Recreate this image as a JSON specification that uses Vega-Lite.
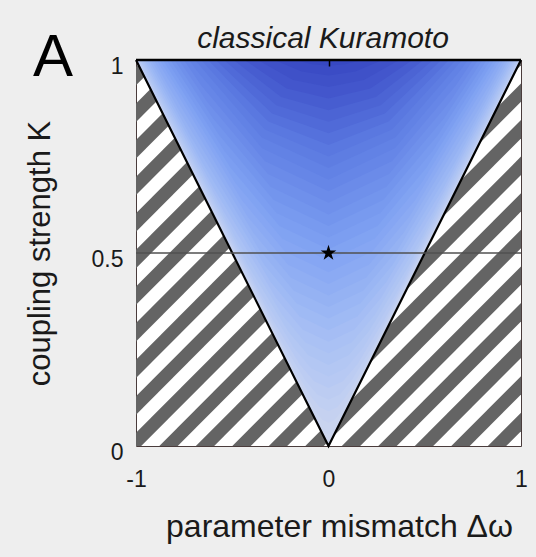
{
  "$schema": "https://vega.github.io/schema/vega-lite/v6.json",
  "width": 385,
  "height": 386,
  "autosize": {"type": "none"},
  "padding": {"left": 136, "top": 60, "right": 15, "bottom": 111},
  "background": "#eeeeee",
  "config": {"view": {"fill": "white", "stroke": "#4a3c3c", "strokeWidth": 1}, "font": "Liberation Sans"},
  "datasets": {
    "stripes": [
      {"xa": -1.1, "ya": -1.0825, "xb": 1.1, "yb": 0.0175},
      {"xa": -1.1, "ya": -0.9877, "xb": 1.1, "yb": 0.1123},
      {"xa": -1.1, "ya": -0.8929, "xb": 1.1, "yb": 0.2071},
      {"xa": -1.1, "ya": -0.7981, "xb": 1.1, "yb": 0.3019},
      {"xa": -1.1, "ya": -0.7033, "xb": 1.1, "yb": 0.3967},
      {"xa": -1.1, "ya": -0.6085, "xb": 1.1, "yb": 0.4915},
      {"xa": -1.1, "ya": -0.5137, "xb": 1.1, "yb": 0.5863},
      {"xa": -1.1, "ya": -0.4189, "xb": 1.1, "yb": 0.6811},
      {"xa": -1.1, "ya": -0.3241, "xb": 1.1, "yb": 0.7759},
      {"xa": -1.1, "ya": -0.2293, "xb": 1.1, "yb": 0.8707},
      {"xa": -1.1, "ya": -0.1345, "xb": 1.1, "yb": 0.9655},
      {"xa": -1.1, "ya": -0.0397, "xb": 1.1, "yb": 1.0603},
      {"xa": -1.1, "ya": 0.0551, "xb": 1.1, "yb": 1.1551},
      {"xa": -1.1, "ya": 0.1499, "xb": 1.1, "yb": 1.2499},
      {"xa": -1.1, "ya": 0.2447, "xb": 1.1, "yb": 1.3447},
      {"xa": -1.1, "ya": 0.3395, "xb": 1.1, "yb": 1.4395},
      {"xa": -1.1, "ya": 0.4343, "xb": 1.1, "yb": 1.5343},
      {"xa": -1.1, "ya": 0.5291, "xb": 1.1, "yb": 1.6291},
      {"xa": -1.1, "ya": 0.6239, "xb": 1.1, "yb": 1.7239},
      {"xa": -1.1, "ya": 0.7187, "xb": 1.1, "yb": 1.8187},
      {"xa": -1.1, "ya": 0.8135, "xb": 1.1, "yb": 1.9135},
      {"xa": -1.1, "ya": 0.9083, "xb": 1.1, "yb": 2.0083},
      {"xa": -1.1, "ya": 1.0031, "xb": 1.1, "yb": 2.1031}
    ],
    "levels": [
      {"v": 0, "x": -1, "y": 1, "y2": 1}, {"v": 0, "x": 0, "y": 1, "y2": 0}, {"v": 0, "x": 1, "y": 1, "y2": 1},
      {"v": 0.03, "x": -0.9995, "y": 1, "y2": 1}, {"v": 0.03, "x": -0.06, "y": 1, "y2": 0.0671}, {"v": 0.03, "x": -0.03, "y": 1, "y2": 0.0424}, {"v": 0.03, "x": -0.015, "y": 1, "y2": 0.0335}, {"v": 0.03, "x": 0, "y": 1, "y2": 0.03}, {"v": 0.03, "x": 0.015, "y": 1, "y2": 0.0335}, {"v": 0.03, "x": 0.03, "y": 1, "y2": 0.0424}, {"v": 0.03, "x": 0.06, "y": 1, "y2": 0.0671}, {"v": 0.03, "x": 0.9995, "y": 1, "y2": 1},
      {"v": 0.06, "x": -0.9982, "y": 1, "y2": 1}, {"v": 0.06, "x": -0.12, "y": 1, "y2": 0.1342}, {"v": 0.06, "x": -0.06, "y": 1, "y2": 0.0849}, {"v": 0.06, "x": -0.03, "y": 1, "y2": 0.0671}, {"v": 0.06, "x": 0, "y": 1, "y2": 0.06}, {"v": 0.06, "x": 0.03, "y": 1, "y2": 0.0671}, {"v": 0.06, "x": 0.06, "y": 1, "y2": 0.0849}, {"v": 0.06, "x": 0.12, "y": 1, "y2": 0.1342}, {"v": 0.06, "x": 0.9982, "y": 1, "y2": 1},
      {"v": 0.09, "x": -0.9959, "y": 1, "y2": 1}, {"v": 0.09, "x": -0.18, "y": 1, "y2": 0.2012}, {"v": 0.09, "x": -0.09, "y": 1, "y2": 0.1273}, {"v": 0.09, "x": -0.045, "y": 1, "y2": 0.1006}, {"v": 0.09, "x": 0, "y": 1, "y2": 0.09}, {"v": 0.09, "x": 0.045, "y": 1, "y2": 0.1006}, {"v": 0.09, "x": 0.09, "y": 1, "y2": 0.1273}, {"v": 0.09, "x": 0.18, "y": 1, "y2": 0.2012}, {"v": 0.09, "x": 0.9959, "y": 1, "y2": 1},
      {"v": 0.12, "x": -0.9928, "y": 1, "y2": 1}, {"v": 0.12, "x": -0.24, "y": 1, "y2": 0.2683}, {"v": 0.12, "x": -0.12, "y": 1, "y2": 0.1697}, {"v": 0.12, "x": -0.06, "y": 1, "y2": 0.1342}, {"v": 0.12, "x": 0, "y": 1, "y2": 0.12}, {"v": 0.12, "x": 0.06, "y": 1, "y2": 0.1342}, {"v": 0.12, "x": 0.12, "y": 1, "y2": 0.1697}, {"v": 0.12, "x": 0.24, "y": 1, "y2": 0.2683}, {"v": 0.12, "x": 0.9928, "y": 1, "y2": 1},
      {"v": 0.15, "x": -0.9887, "y": 1, "y2": 1}, {"v": 0.15, "x": -0.3, "y": 1, "y2": 0.3354}, {"v": 0.15, "x": -0.15, "y": 1, "y2": 0.2121}, {"v": 0.15, "x": -0.075, "y": 1, "y2": 0.1677}, {"v": 0.15, "x": 0, "y": 1, "y2": 0.15}, {"v": 0.15, "x": 0.075, "y": 1, "y2": 0.1677}, {"v": 0.15, "x": 0.15, "y": 1, "y2": 0.2121}, {"v": 0.15, "x": 0.3, "y": 1, "y2": 0.3354}, {"v": 0.15, "x": 0.9887, "y": 1, "y2": 1},
      {"v": 0.18, "x": -0.9837, "y": 1, "y2": 1}, {"v": 0.18, "x": -0.36, "y": 1, "y2": 0.4025}, {"v": 0.18, "x": -0.18, "y": 1, "y2": 0.2546}, {"v": 0.18, "x": -0.09, "y": 1, "y2": 0.2012}, {"v": 0.18, "x": 0, "y": 1, "y2": 0.18}, {"v": 0.18, "x": 0.09, "y": 1, "y2": 0.2012}, {"v": 0.18, "x": 0.18, "y": 1, "y2": 0.2546}, {"v": 0.18, "x": 0.36, "y": 1, "y2": 0.4025}, {"v": 0.18, "x": 0.9837, "y": 1, "y2": 1},
      {"v": 0.21, "x": -0.9777, "y": 1, "y2": 1}, {"v": 0.21, "x": -0.42, "y": 1, "y2": 0.4696}, {"v": 0.21, "x": -0.21, "y": 1, "y2": 0.297}, {"v": 0.21, "x": -0.105, "y": 1, "y2": 0.2348}, {"v": 0.21, "x": 0, "y": 1, "y2": 0.21}, {"v": 0.21, "x": 0.105, "y": 1, "y2": 0.2348}, {"v": 0.21, "x": 0.21, "y": 1, "y2": 0.297}, {"v": 0.21, "x": 0.42, "y": 1, "y2": 0.4696}, {"v": 0.21, "x": 0.9777, "y": 1, "y2": 1},
      {"v": 0.24, "x": -0.9708, "y": 1, "y2": 1}, {"v": 0.24, "x": -0.48, "y": 1, "y2": 0.5367}, {"v": 0.24, "x": -0.24, "y": 1, "y2": 0.3394}, {"v": 0.24, "x": -0.12, "y": 1, "y2": 0.2683}, {"v": 0.24, "x": 0, "y": 1, "y2": 0.24}, {"v": 0.24, "x": 0.12, "y": 1, "y2": 0.2683}, {"v": 0.24, "x": 0.24, "y": 1, "y2": 0.3394}, {"v": 0.24, "x": 0.48, "y": 1, "y2": 0.5367}, {"v": 0.24, "x": 0.9708, "y": 1, "y2": 1},
      {"v": 0.27, "x": -0.9629, "y": 1, "y2": 1}, {"v": 0.27, "x": -0.54, "y": 1, "y2": 0.6037}, {"v": 0.27, "x": -0.27, "y": 1, "y2": 0.3818}, {"v": 0.27, "x": -0.135, "y": 1, "y2": 0.3019}, {"v": 0.27, "x": 0, "y": 1, "y2": 0.27}, {"v": 0.27, "x": 0.135, "y": 1, "y2": 0.3019}, {"v": 0.27, "x": 0.27, "y": 1, "y2": 0.3818}, {"v": 0.27, "x": 0.54, "y": 1, "y2": 0.6037}, {"v": 0.27, "x": 0.9629, "y": 1, "y2": 1},
      {"v": 0.3, "x": -0.9539, "y": 1, "y2": 1}, {"v": 0.3, "x": -0.6, "y": 1, "y2": 0.6708}, {"v": 0.3, "x": -0.3, "y": 1, "y2": 0.4243}, {"v": 0.3, "x": -0.15, "y": 1, "y2": 0.3354}, {"v": 0.3, "x": 0, "y": 1, "y2": 0.3}, {"v": 0.3, "x": 0.15, "y": 1, "y2": 0.3354}, {"v": 0.3, "x": 0.3, "y": 1, "y2": 0.4243}, {"v": 0.3, "x": 0.6, "y": 1, "y2": 0.6708}, {"v": 0.3, "x": 0.9539, "y": 1, "y2": 1},
      {"v": 0.33, "x": -0.944, "y": 1, "y2": 1}, {"v": 0.33, "x": -0.66, "y": 1, "y2": 0.7379}, {"v": 0.33, "x": -0.33, "y": 1, "y2": 0.4667}, {"v": 0.33, "x": -0.165, "y": 1, "y2": 0.3689}, {"v": 0.33, "x": 0, "y": 1, "y2": 0.33}, {"v": 0.33, "x": 0.165, "y": 1, "y2": 0.3689}, {"v": 0.33, "x": 0.33, "y": 1, "y2": 0.4667}, {"v": 0.33, "x": 0.66, "y": 1, "y2": 0.7379}, {"v": 0.33, "x": 0.944, "y": 1, "y2": 1},
      {"v": 0.36, "x": -0.933, "y": 1, "y2": 1}, {"v": 0.36, "x": -0.72, "y": 1, "y2": 0.805}, {"v": 0.36, "x": -0.36, "y": 1, "y2": 0.5091}, {"v": 0.36, "x": -0.18, "y": 1, "y2": 0.4025}, {"v": 0.36, "x": 0, "y": 1, "y2": 0.36}, {"v": 0.36, "x": 0.18, "y": 1, "y2": 0.4025}, {"v": 0.36, "x": 0.36, "y": 1, "y2": 0.5091}, {"v": 0.36, "x": 0.72, "y": 1, "y2": 0.805}, {"v": 0.36, "x": 0.933, "y": 1, "y2": 1},
      {"v": 0.39, "x": -0.9208, "y": 1, "y2": 1}, {"v": 0.39, "x": -0.78, "y": 1, "y2": 0.8721}, {"v": 0.39, "x": -0.39, "y": 1, "y2": 0.5515}, {"v": 0.39, "x": -0.195, "y": 1, "y2": 0.436}, {"v": 0.39, "x": 0, "y": 1, "y2": 0.39}, {"v": 0.39, "x": 0.195, "y": 1, "y2": 0.436}, {"v": 0.39, "x": 0.39, "y": 1, "y2": 0.5515}, {"v": 0.39, "x": 0.78, "y": 1, "y2": 0.8721}, {"v": 0.39, "x": 0.9208, "y": 1, "y2": 1},
      {"v": 0.42, "x": -0.9075, "y": 1, "y2": 1}, {"v": 0.42, "x": -0.84, "y": 1, "y2": 0.9391}, {"v": 0.42, "x": -0.42, "y": 1, "y2": 0.594}, {"v": 0.42, "x": -0.21, "y": 1, "y2": 0.4696}, {"v": 0.42, "x": 0, "y": 1, "y2": 0.42}, {"v": 0.42, "x": 0.21, "y": 1, "y2": 0.4696}, {"v": 0.42, "x": 0.42, "y": 1, "y2": 0.594}, {"v": 0.42, "x": 0.84, "y": 1, "y2": 0.9391}, {"v": 0.42, "x": 0.9075, "y": 1, "y2": 1},
      {"v": 0.45, "x": -0.893, "y": 1, "y2": 1}, {"v": 0.45, "x": -0.45, "y": 1, "y2": 0.6364}, {"v": 0.45, "x": -0.225, "y": 1, "y2": 0.5031}, {"v": 0.45, "x": 0, "y": 1, "y2": 0.45}, {"v": 0.45, "x": 0.225, "y": 1, "y2": 0.5031}, {"v": 0.45, "x": 0.45, "y": 1, "y2": 0.6364}, {"v": 0.45, "x": 0.893, "y": 1, "y2": 1},
      {"v": 0.48, "x": -0.8773, "y": 1, "y2": 1}, {"v": 0.48, "x": -0.48, "y": 1, "y2": 0.6788}, {"v": 0.48, "x": -0.24, "y": 1, "y2": 0.5367}, {"v": 0.48, "x": 0, "y": 1, "y2": 0.48}, {"v": 0.48, "x": 0.24, "y": 1, "y2": 0.5367}, {"v": 0.48, "x": 0.48, "y": 1, "y2": 0.6788}, {"v": 0.48, "x": 0.8773, "y": 1, "y2": 1},
      {"v": 0.51, "x": -0.8602, "y": 1, "y2": 1}, {"v": 0.51, "x": -0.51, "y": 1, "y2": 0.7212}, {"v": 0.51, "x": -0.255, "y": 1, "y2": 0.5702}, {"v": 0.51, "x": 0, "y": 1, "y2": 0.51}, {"v": 0.51, "x": 0.255, "y": 1, "y2": 0.5702}, {"v": 0.51, "x": 0.51, "y": 1, "y2": 0.7212}, {"v": 0.51, "x": 0.8602, "y": 1, "y2": 1},
      {"v": 0.54, "x": -0.8417, "y": 1, "y2": 1}, {"v": 0.54, "x": -0.54, "y": 1, "y2": 0.7637}, {"v": 0.54, "x": -0.27, "y": 1, "y2": 0.6037}, {"v": 0.54, "x": 0, "y": 1, "y2": 0.54}, {"v": 0.54, "x": 0.27, "y": 1, "y2": 0.6037}, {"v": 0.54, "x": 0.54, "y": 1, "y2": 0.7637}, {"v": 0.54, "x": 0.8417, "y": 1, "y2": 1},
      {"v": 0.57, "x": -0.8216, "y": 1, "y2": 1}, {"v": 0.57, "x": -0.57, "y": 1, "y2": 0.8061}, {"v": 0.57, "x": -0.285, "y": 1, "y2": 0.6373}, {"v": 0.57, "x": 0, "y": 1, "y2": 0.57}, {"v": 0.57, "x": 0.285, "y": 1, "y2": 0.6373}, {"v": 0.57, "x": 0.57, "y": 1, "y2": 0.8061}, {"v": 0.57, "x": 0.8216, "y": 1, "y2": 1},
      {"v": 0.6, "x": -0.8, "y": 1, "y2": 1}, {"v": 0.6, "x": -0.6, "y": 1, "y2": 0.8485}, {"v": 0.6, "x": -0.3, "y": 1, "y2": 0.6708}, {"v": 0.6, "x": 0, "y": 1, "y2": 0.6}, {"v": 0.6, "x": 0.3, "y": 1, "y2": 0.6708}, {"v": 0.6, "x": 0.6, "y": 1, "y2": 0.8485}, {"v": 0.6, "x": 0.8, "y": 1, "y2": 1},
      {"v": 0.63, "x": -0.7766, "y": 1, "y2": 1}, {"v": 0.63, "x": -0.63, "y": 1, "y2": 0.891}, {"v": 0.63, "x": -0.315, "y": 1, "y2": 0.7044}, {"v": 0.63, "x": 0, "y": 1, "y2": 0.63}, {"v": 0.63, "x": 0.315, "y": 1, "y2": 0.7044}, {"v": 0.63, "x": 0.63, "y": 1, "y2": 0.891}, {"v": 0.63, "x": 0.7766, "y": 1, "y2": 1},
      {"v": 0.66, "x": -0.7513, "y": 1, "y2": 1}, {"v": 0.66, "x": -0.66, "y": 1, "y2": 0.9334}, {"v": 0.66, "x": -0.33, "y": 1, "y2": 0.7379}, {"v": 0.66, "x": 0, "y": 1, "y2": 0.66}, {"v": 0.66, "x": 0.33, "y": 1, "y2": 0.7379}, {"v": 0.66, "x": 0.66, "y": 1, "y2": 0.9334}, {"v": 0.66, "x": 0.7513, "y": 1, "y2": 1},
      {"v": 0.69, "x": -0.7238, "y": 1, "y2": 1}, {"v": 0.69, "x": -0.69, "y": 1, "y2": 0.9758}, {"v": 0.69, "x": -0.345, "y": 1, "y2": 0.7714}, {"v": 0.69, "x": 0, "y": 1, "y2": 0.69}, {"v": 0.69, "x": 0.345, "y": 1, "y2": 0.7714}, {"v": 0.69, "x": 0.69, "y": 1, "y2": 0.9758}, {"v": 0.69, "x": 0.7238, "y": 1, "y2": 1},
      {"v": 0.72, "x": -0.694, "y": 1, "y2": 1}, {"v": 0.72, "x": -0.347, "y": 1, "y2": 0.7993}, {"v": 0.72, "x": 0, "y": 1, "y2": 0.72}, {"v": 0.72, "x": 0.347, "y": 1, "y2": 0.7993}, {"v": 0.72, "x": 0.694, "y": 1, "y2": 1},
      {"v": 0.75, "x": -0.6614, "y": 1, "y2": 1}, {"v": 0.75, "x": -0.3307, "y": 1, "y2": 0.8197}, {"v": 0.75, "x": 0, "y": 1, "y2": 0.75}, {"v": 0.75, "x": 0.3307, "y": 1, "y2": 0.8197}, {"v": 0.75, "x": 0.6614, "y": 1, "y2": 1},
      {"v": 0.78, "x": -0.6258, "y": 1, "y2": 1}, {"v": 0.78, "x": -0.3129, "y": 1, "y2": 0.8404}, {"v": 0.78, "x": 0, "y": 1, "y2": 0.78}, {"v": 0.78, "x": 0.3129, "y": 1, "y2": 0.8404}, {"v": 0.78, "x": 0.6258, "y": 1, "y2": 1},
      {"v": 0.81, "x": -0.5864, "y": 1, "y2": 1}, {"v": 0.81, "x": -0.2932, "y": 1, "y2": 0.8615}, {"v": 0.81, "x": 0, "y": 1, "y2": 0.81}, {"v": 0.81, "x": 0.2932, "y": 1, "y2": 0.8615}, {"v": 0.81, "x": 0.5864, "y": 1, "y2": 1},
      {"v": 0.84, "x": -0.5426, "y": 1, "y2": 1}, {"v": 0.84, "x": -0.2713, "y": 1, "y2": 0.8827}, {"v": 0.84, "x": 0, "y": 1, "y2": 0.84}, {"v": 0.84, "x": 0.2713, "y": 1, "y2": 0.8827}, {"v": 0.84, "x": 0.5426, "y": 1, "y2": 1},
      {"v": 0.87, "x": -0.4931, "y": 1, "y2": 1}, {"v": 0.87, "x": -0.2466, "y": 1, "y2": 0.9043}, {"v": 0.87, "x": 0, "y": 1, "y2": 0.87}, {"v": 0.87, "x": 0.2466, "y": 1, "y2": 0.9043}, {"v": 0.87, "x": 0.4931, "y": 1, "y2": 1},
      {"v": 0.9, "x": -0.4359, "y": 1, "y2": 1}, {"v": 0.9, "x": -0.218, "y": 1, "y2": 0.926}, {"v": 0.9, "x": 0, "y": 1, "y2": 0.9}, {"v": 0.9, "x": 0.218, "y": 1, "y2": 0.926}, {"v": 0.9, "x": 0.4359, "y": 1, "y2": 1},
      {"v": 0.93, "x": -0.3676, "y": 1, "y2": 1}, {"v": 0.93, "x": -0.1838, "y": 1, "y2": 0.948}, {"v": 0.93, "x": 0, "y": 1, "y2": 0.93}, {"v": 0.93, "x": 0.1838, "y": 1, "y2": 0.948}, {"v": 0.93, "x": 0.3676, "y": 1, "y2": 1},
      {"v": 0.96, "x": -0.28, "y": 1, "y2": 1}, {"v": 0.96, "x": -0.14, "y": 1, "y2": 0.9702}, {"v": 0.96, "x": 0, "y": 1, "y2": 0.96}, {"v": 0.96, "x": 0.14, "y": 1, "y2": 0.9702}, {"v": 0.96, "x": 0.28, "y": 1, "y2": 1},
      {"v": 0.985, "x": -0.1726, "y": 1, "y2": 1}, {"v": 0.985, "x": -0.0863, "y": 1, "y2": 0.9888}, {"v": 0.985, "x": 0, "y": 1, "y2": 0.985}, {"v": 0.985, "x": 0.0863, "y": 1, "y2": 0.9888}, {"v": 0.985, "x": 0.1726, "y": 1, "y2": 1}
    ],
    "vee": [{"x": -1, "y": 1}, {"x": 0, "y": 0}, {"x": 1, "y": 1}],
    "border": [{"xa": -1, "xb": 1, "y": 1}],
    "mid": [{"xa": -1, "xb": 1, "y": 0.5}],
    "star": [{"x": 0, "y": 0.5}]
  },
  "layer": [
    {
      "data": {"name": "stripes"},
      "mark": {"type": "rule", "clip": true, "color": "#646464", "strokeWidth": 13, "strokeCap": "butt"},
      "encoding": {
        "x": {
          "field": "xa", "type": "quantitative",
          "scale": {"domain": [-1, 1], "nice": false, "zero": false},
          "axis": {
            "orient": "bottom", "values": [-1, 0, 1], "labelExpr": "toString(datum.value)",
            "labelFontSize": 23, "labelColor": "#1a1a1a", "labelPadding": 22, "labelFlush": false,
            "ticks": false, "domain": false, "grid": false,
            "title": "parameter mismatch Δω", "titleFontSize": 32, "titleFontWeight": "normal",
            "titleColor": "#1a1a1a", "titleX": 203, "titleY": 90, "titleBaseline": "alphabetic", "titleAlign": "center"
          }
        },
        "y": {
          "field": "ya", "type": "quantitative",
          "scale": {"domain": [0, 1], "nice": false, "zero": false},
          "axis": {
            "orient": "left", "values": [0, 0.5, 1], "labelExpr": "toString(datum.value)",
            "labelFontSize": 23, "labelColor": "#1a1a1a", "labelPadding": 13, "labelOffset": 6, "labelFlush": false,
            "ticks": false, "domain": false, "grid": false,
            "title": "coupling strength K", "titleFontSize": 31, "titleFontWeight": "normal",
            "titleColor": "#1a1a1a", "titleX": -96, "titleBaseline": "middle"
          }
        },
        "x2": {"field": "xb"},
        "y2": {"field": "yb"}
      }
    },
    {
      "data": {"name": "levels"},
      "mark": {"type": "area", "opacity": 1, "interpolate": "linear"},
      "encoding": {
        "x": {"field": "x", "type": "quantitative", "axis": null},
        "y": {"field": "y", "type": "quantitative", "axis": null},
        "y2": {"field": "y2"},
        "color": {
          "field": "v", "type": "quantitative", "legend": null,
          "scale": {"domain": [0, 0.1, 0.25, 0.5, 0.75, 0.9, 1], "range": ["#cdd6ee", "#bfcef2", "#a8c0f4", "#7ea0f2", "#5a78e0", "#4356cc", "#3545c0"]}
        }
      }
    },
    {
      "data": {"name": "vee"},
      "mark": {"type": "line", "color": "black", "strokeWidth": 2.2},
      "encoding": {
        "x": {"field": "x", "type": "quantitative", "axis": null},
        "y": {"field": "y", "type": "quantitative", "axis": null}
      }
    },
    {
      "data": {"name": "border"},
      "mark": {"type": "rule", "color": "black", "strokeWidth": 2.5},
      "encoding": {
        "x": {"field": "xa", "type": "quantitative", "axis": null},
        "x2": {"field": "xb"},
        "y": {"field": "y", "type": "quantitative", "axis": null}
      }
    },
    {
      "data": {"name": "mid"},
      "mark": {"type": "rule", "color": "#505050", "strokeWidth": 1.5},
      "encoding": {
        "x": {"field": "xa", "type": "quantitative", "axis": null},
        "x2": {"field": "xb"},
        "y": {"field": "y", "type": "quantitative", "axis": null}
      }
    },
    {
      "data": {"name": "star"},
      "mark": {
        "type": "point", "filled": true, "color": "black", "opacity": 1, "size": 270,
        "shape": "M0,-1L0.2245,-0.309L0.951,-0.309L0.363,0.118L0.588,0.809L0,0.382L-0.588,0.809L-0.363,0.118L-0.951,-0.309L-0.2245,-0.309Z"
      },
      "encoding": {
        "x": {
          "field": "x", "type": "quantitative",
          "axis": {
            "orient": "top", "values": [0], "labels": false, "ticks": true, "tickSize": -6,
            "tickColor": "black", "tickWidth": 1.5, "domain": false, "grid": false, "zindex": 1,
            "title": "classical Kuramoto", "titleFontSize": 30, "titleFontStyle": "italic", "titleFontWeight": "normal",
            "titleColor": "#1a1a1a", "titleX": 186.5, "titleY": -13, "titleBaseline": "alphabetic", "titleAlign": "center"
          }
        },
        "y": {
          "field": "y", "type": "quantitative",
          "axis": {
            "orient": "right", "labels": false, "ticks": false, "domain": false, "grid": false,
            "title": "A", "titleFontSize": 60, "titleFontWeight": "normal", "titleColor": "black",
            "titleAngle": 0, "titleX": -468.5, "titleY": 15, "titleBaseline": "alphabetic", "titleAlign": "center"
          }
        }
      }
    }
  ],
  "resolve": {"axis": {"x": "independent", "y": "independent"}}
}
